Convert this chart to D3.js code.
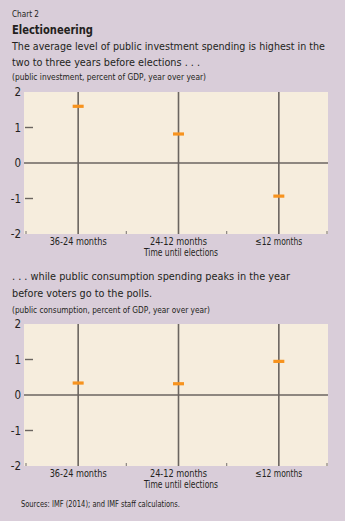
<!DOCTYPE html>
<html><head><meta charset="utf-8">
<script src="https://cdn.jsdelivr.net/npm/d3@7"></script>
<style>
html,body{margin:0;padding:0;background:#d9cdd9;}
svg{display:block;}
text{font-family:"Liberation Sans Narrow","DejaVu Sans Condensed","Arial Narrow",sans-serif;fill:#231f20;}
</style></head><body>
<svg id="c" width="345" height="521"></svg>
<script>
const categories = ["36-24 months", "24-12 months", "\u226412 months"];
const investment = [1.6, 0.82, -0.93];
const consumption = [0.34, 0.32, 0.95];
const yTicks = [-2, -1, 0, 1, 2];
const xAxisTitle = "Time until elections";

const svg = d3.select("#c");
svg.append("rect").attr("width",345).attr("height",521).attr("fill","#d9cdd9");

// group of texts sharing one font size, each fitted to its measured reference width
function group(items, size, bold){
  const nodes = items.map(([x,y,s,w])=>{
    const t = svg.append("text").attr("x",x).attr("y",y).text(s).style("font-size",size+"px");
    if(bold) t.style("font-weight","bold");
    return {t,w,x};
  });
  let f = size;
  nodes.forEach(({t,w,x})=>{
    const nat = t.node().getComputedTextLength();
    const lim = Math.min(w*1.08, 343 - x);
    if(nat > lim) f = Math.min(f, size*lim/nat);
  });
  nodes.forEach(({t,w})=>{
    t.style("font-size",f+"px").attr("textLength",w).attr("lengthAdjust","spacingAndGlyphs");
  });
}

group([[12,17,"Chart 2",27]],10.5,false);
group([[12,34,"Electioneering",81]],15,true);
group([
  [12,49.5,"The average level of public investment spending is highest in the",313],
  [12,65.5,"two to three years before elections . . .",188],
  [12,280,". . . while public consumption spending peaks in the year",278],
  [12,296.5,"before voters go to the polls.",140]
],13.5,false);
group([
  [12,80,"(public investment, percent of GDP, year over year)",194],
  [12,313,"(public consumption, percent of GDP, year over year)",198]
],10,false);
group([[21,507,"Sources: IMF (2014); and IMF staff calculations.",159]],9,false);

const lineCol = "#6b6560";
const xLabelW = [57, 57, 47];

function panel(top, bottom, values){
  const left = 24, right = 328;
  const x = d3.scaleBand().domain(categories).range([26, 327]);
  const y = d3.scaleLinear().domain([-2, 2]).range([bottom, top]);
  const g = svg.append("g");
  g.append("rect").attr("x",left).attr("y",top).attr("width",right-left).attr("height",bottom-top).attr("fill","#f6eddd");
  g.selectAll(".vl").data(categories).enter().append("line")
    .attr("x1",d=>x(d)+x.bandwidth()/2+2).attr("x2",d=>x(d)+x.bandwidth()/2+2)
    .attr("y1",top).attr("y2",bottom).attr("stroke",lineCol).attr("stroke-width",1.6);
  g.append("line").attr("x1",left).attr("x2",right).attr("y1",y(0)).attr("y2",y(0))
    .attr("stroke",lineCol).attr("stroke-width",1.6);
  g.selectAll(".yt").data(yTicks.filter(d=>Math.abs(d)===1)).enter().append("line")
    .attr("x1",left+1).attr("x2",left+9).attr("y1",d=>y(d)).attr("y2",d=>y(d))
    .attr("stroke",lineCol).attr("stroke-width",1.4);
  g.selectAll(".yl").data(yTicks).enter().append("text")
    .attr("x",21).attr("y",d=>y(d)+4).attr("text-anchor","end")
    .style("font-size","11.5px").text(d=>d<0?"-"+Math.abs(d):d);
  const bounds = categories.map(c=>x(c)).concat([x(categories[2])+x.bandwidth()]);
  g.selectAll(".bt").data(bounds).enter().append("line")
    .attr("x1",d=>d).attr("x2",d=>d).attr("y1",bottom-3).attr("y2",bottom)
    .attr("stroke","#8a8480").attr("stroke-width",1.2);
  g.selectAll(".mk").data(values).enter().append("rect")
    .attr("x",(d,i)=>x(categories[i])+x.bandwidth()/2+2-5.5).attr("y",d=>y(d)-1.5)
    .attr("width",11).attr("height",3.2).attr("fill","#f7931e");
  categories.forEach((c,i)=>{
    g.append("text").attr("x",x(c)+x.bandwidth()/2+2).attr("y",bottom+10.5)
      .attr("text-anchor","middle").style("font-size","10.5px")
      .attr("textLength",xLabelW[i]).attr("lengthAdjust","spacingAndGlyphs").text(c);
  });
  g.append("text").attr("x",181).attr("y",bottom+21.5).attr("text-anchor","middle")
    .style("font-size","10.5px").attr("textLength",74).attr("lengthAdjust","spacingAndGlyphs").text(xAxisTitle);
}

panel(92, 234, investment);
panel(324, 466, consumption);
</script>
</body></html>
